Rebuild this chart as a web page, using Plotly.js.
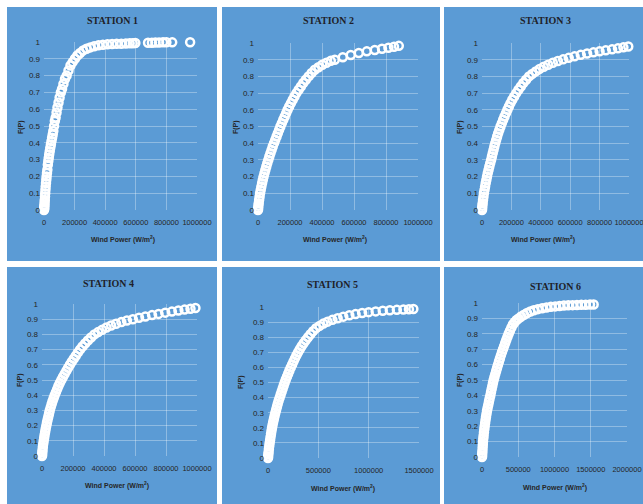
<!DOCTYPE html>
<html>
<head>
<meta charset="utf-8">
<script src="https://cdn.plot.ly/plotly-3.0.1.min.js"></script>
<style>html,body{margin:0;padding:0;background:#fff;}#chart{width:643px;height:504px;}</style>
</head>
<body>
<div id="chart"></div>
<script>
// ---- Data ----
const stationNames = ["STATION 1","STATION 2","STATION 3","STATION 4","STATION 5","STATION 6"];
const xTitle = "Wind Power (W/m<sup>2</sup>)";
const yTitle = "F(P)";

const s1x = [0,500,1000,2000,3000,4000,5000,6500,8000,9500,11000,13000,15000,17000,19500,22000,25000,28000,31000,34000,37500,41000,45000,49000,53000,57000,61000,66000,71000,76000,82000,88000,95000,102000,110000,118000,127000,137000,148000,160000,173000,187000,202000,218000,236000,256000,278000,302000,328000,356000,385000,415000,445000,475000,505000,535000,560000,580000,597000,680000,705000,728000,752000,778000,800000,838000,955000];
const s1y = [0,0.005,0.01,0.02,0.03,0.045,0.06,0.08,0.1,0.12,0.14,0.16,0.18,0.2,0.22,0.24,0.27,0.29,0.31,0.33,0.35,0.37,0.39,0.41,0.43,0.45,0.47,0.5,0.53,0.55,0.58,0.61,0.64,0.67,0.7,0.72,0.75,0.78,0.8,0.83,0.86,0.88,0.9,0.92,0.935,0.95,0.96,0.968,0.975,0.98,0.984,0.986,0.988,0.989,0.99,0.991,0.992,0.993,0.994,0.996,0.996,0.997,0.997,0.998,0.998,0.998,0.999];

const s2x = [0,1000,2500,4500,7000,10000,13000,17000,21000,25500,30000,35000,40500,46000,52000,58000,64500,71000,78000,85000,92000,100000,108000,116000,124000,132000,140000,149000,158000,167000,176000,185000,195000,206000,217000,228000,240000,254000,268000,283000,299000,316000,335000,355000,378000,402000,428000,455000,480000,530000,580000,630000,680000,730000,775000,815000,850000,880000];
const s2y = [0,0.01,0.025,0.04,0.06,0.08,0.1,0.12,0.14,0.16,0.18,0.2,0.22,0.24,0.26,0.28,0.3,0.32,0.34,0.36,0.38,0.4,0.42,0.44,0.46,0.48,0.5,0.52,0.54,0.56,0.58,0.6,0.62,0.64,0.66,0.68,0.7,0.72,0.74,0.76,0.78,0.8,0.82,0.84,0.855,0.87,0.882,0.893,0.9,0.915,0.928,0.94,0.95,0.958,0.966,0.972,0.978,0.983];

const s3x = [0,1000,2500,4500,7000,10000,13000,17000,21000,25000,29500,34000,39000,44500,50000,56000,62000,67500,73000,78500,84000,90000,96500,103000,110000,118000,126000,135000,144000,153000,163000,173000,183000,194000,206000,219000,233000,248000,264000,281000,300000,320000,342000,366000,392000,420000,450000,482000,516000,552000,590000,630000,672000,715000,758000,800000,842000,885000,925000,962000,995000];
const s3y = [0,0.01,0.025,0.04,0.06,0.08,0.1,0.12,0.14,0.16,0.18,0.2,0.22,0.24,0.26,0.28,0.3,0.32,0.34,0.36,0.38,0.4,0.42,0.44,0.46,0.48,0.5,0.52,0.54,0.56,0.58,0.6,0.62,0.64,0.66,0.68,0.7,0.72,0.74,0.76,0.78,0.8,0.815,0.83,0.845,0.858,0.87,0.882,0.892,0.902,0.911,0.92,0.929,0.937,0.944,0.95,0.956,0.962,0.968,0.974,0.979];

const s4x = [0,1000,2000,3500,5500,8000,11000,14000,17000,20500,24000,28000,32000,36500,41000,45500,50000,56000,62000,68000,75000,82000,90000,98000,106000,115000,125000,135000,146000,157000,168000,180000,192000,205000,218000,231000,245000,261000,278000,296000,316000,338000,362000,388000,416000,446000,478000,512000,548000,586000,626000,667000,710000,752000,795000,838000,880000,920000,958000,990000];
const s4y = [0,0.01,0.025,0.04,0.06,0.08,0.1,0.12,0.14,0.16,0.18,0.2,0.22,0.24,0.26,0.28,0.3,0.32,0.34,0.36,0.38,0.4,0.42,0.44,0.46,0.48,0.5,0.52,0.54,0.56,0.58,0.6,0.62,0.64,0.66,0.68,0.7,0.72,0.74,0.76,0.78,0.8,0.815,0.83,0.845,0.858,0.87,0.881,0.891,0.9,0.909,0.918,0.927,0.935,0.943,0.95,0.957,0.963,0.969,0.974];

const s5x = [0,1500,3500,6000,9000,12500,16500,21000,25500,30000,35000,40000,46000,52000,59000,66000,73000,81000,89000,97000,106000,116000,126000,136000,146000,156000,166000,177000,189000,201000,213000,226000,240000,254000,268000,283000,299000,316000,334000,354000,375000,398000,422000,448000,478000,512000,550000,592000,640000,692000,748000,808000,870000,935000,1000000,1070000,1140000,1210000,1280000,1345000,1400000,1444000];
const s5y = [0,0.01,0.025,0.04,0.06,0.08,0.1,0.12,0.14,0.16,0.18,0.2,0.22,0.24,0.26,0.28,0.3,0.32,0.34,0.36,0.38,0.4,0.42,0.44,0.46,0.48,0.5,0.52,0.54,0.56,0.58,0.6,0.62,0.64,0.66,0.68,0.7,0.72,0.74,0.76,0.78,0.8,0.82,0.84,0.86,0.875,0.89,0.903,0.915,0.926,0.936,0.945,0.953,0.96,0.966,0.971,0.975,0.978,0.981,0.983,0.985,0.987];

const s6x = [0,1500,3500,6000,8500,11000,14000,18000,22500,27000,32000,37000,43000,49000,55000,62000,69000,78000,87000,96000,105000,115000,124000,133000,142000,151000,161000,172000,184000,196000,208000,221000,234000,247000,261000,275000,290000,305000,320000,335000,351000,368000,386000,405000,426000,450000,477000,506000,540000,580000,622000,667000,715000,770000,830000,890000,950000,1010000,1070000,1130000,1190000,1250000,1310000,1370000,1430000,1490000,1540000];
const s6y = [0,0.01,0.025,0.04,0.06,0.08,0.1,0.12,0.14,0.16,0.18,0.2,0.22,0.24,0.26,0.28,0.3,0.32,0.34,0.36,0.38,0.4,0.42,0.44,0.46,0.48,0.5,0.52,0.54,0.56,0.58,0.6,0.62,0.64,0.66,0.68,0.7,0.72,0.74,0.76,0.78,0.8,0.82,0.84,0.86,0.875,0.89,0.9,0.912,0.924,0.935,0.945,0.953,0.96,0.966,0.971,0.975,0.978,0.981,0.983,0.985,0.986,0.987,0.988,0.989,0.99,0.99];

const xMax = [1000000,1000000,1000000,1000000,1500000,2000000];
const xStep = [200000,200000,200000,200000,500000,500000];

// ---- Layout geometry (pixels) ----
const W = 643, H = 504;
const panelBoxes = [[7,7,217,261],[222,7,440,261],[444,7,643,261],[7,267,217,504],[222,267,440,504],[444,267,643,504]];
const plotBoxes = [[44,42,197,210],[258,43,418,210],[482,43,629,210],[42,304,197,456],[268,307,419,458],[482,303,627,457]];
const titlePos = [[113,21],[328,21],[545,21],[108,283],[332,284],[555,286]];
const xTitlePos = [[123,239],[335,239],[543,239],[117,485],[343,488],[555,487]];
const yTitlePos = [[21,127],[236,127],[460,127],[20,380],[241,382],[460,380]];

const px = v => v / W;
const py = v => 1 - v / H;

const xs = [s1x,s2x,s3x,s4x,s5x,s6x];
const ys = [s1y,s2y,s3y,s4y,s5y,s6y];

const blue = '#5b9bd5';
const textCol = '#262626';
const xTickFont = {family:'Liberation Sans, Arial, sans-serif', size:7.5, color:textCol};
const yTickFont = {family:'Liberation Sans, Arial, sans-serif', size:8, color:textCol};

const data = [];
const layout = {
  width: W, height: H,
  margin: {l:0,r:0,t:0,b:0,pad:0},
  paper_bgcolor: '#ffffff',
  plot_bgcolor: 'rgba(0,0,0,0)',
  showlegend: false,
  shapes: [],
  annotations: []
};

for (let i = 0; i < 6; i++) {
  const n = i + 1;
  const xa = 'xaxis' + (n === 1 ? '' : n);
  const ya = 'yaxis' + (n === 1 ? '' : n);
  const xr = 'x' + (n === 1 ? '' : n);
  const yr = 'y' + (n === 1 ? '' : n);
  const pb = plotBoxes[i];
  data.push({
    type: 'scatter', mode: 'markers',
    x: xs[i], y: ys[i], xaxis: xr, yaxis: yr,
    cliponaxis: false,
    marker: {symbol: 'circle-open', size: 8, color: '#ffffff', line: {width: 2.5, color: '#ffffff'}},
    hoverinfo: 'skip'
  });
  layout[xa] = {
    domain: [px(pb[0]), px(pb[2])], anchor: yr,
    range: [0, xMax[i]], tick0: 0, dtick: xStep[i], tickformat: 'd', tickangle: 0,
    showgrid: true, gridcolor: 'rgba(255,255,255,0.32)', gridwidth: 1,
    zeroline: false, showline: false, ticks: '',
    tickfont: xTickFont, ticklabelstandoff: 6, ticklabeloverflow: 'allow', fixedrange: true
  };
  layout[ya] = {
    domain: [py(pb[3]), py(pb[1])], anchor: xr,
    range: [0, 1], tick0: 0, dtick: 0.1,
    showgrid: true, gridcolor: 'rgba(255,255,255,0.32)', gridwidth: 1,
    zeroline: false, showline: false, ticks: '',
    tickfont: yTickFont, ticklabelstandoff: 3, fixedrange: true
  };
  const bb = panelBoxes[i];
  layout.shapes.push({
    type: 'rect', xref: 'paper', yref: 'paper', layer: 'below',
    x0: px(bb[0]), x1: px(bb[2]), y0: py(bb[3]), y1: py(bb[1]),
    fillcolor: blue, line: {width: 0}
  });
  layout.annotations.push({
    text: stationNames[i], xref: 'paper', yref: 'paper',
    x: px(titlePos[i][0]), y: py(titlePos[i][1]), xanchor: 'center', yanchor: 'middle',
    showarrow: false, font: {family: 'Liberation Serif, Times New Roman, serif', size: 10, weight: 'bold', color: '#1f1f2a'}
  });
  layout.annotations.push({
    text: xTitle, xref: 'paper', yref: 'paper',
    x: px(xTitlePos[i][0]), y: py(xTitlePos[i][1]), xanchor: 'center', yanchor: 'middle',
    showarrow: false, font: {family: 'Liberation Sans, Arial, sans-serif', size: 7, weight: 'bold', color: textCol}
  });
  layout.annotations.push({
    text: yTitle, xref: 'paper', yref: 'paper', textangle: -90,
    x: px(yTitlePos[i][0]), y: py(yTitlePos[i][1]), xanchor: 'center', yanchor: 'middle',
    showarrow: false, font: {family: 'Liberation Sans, Arial, sans-serif', size: 7, weight: 'bold', color: textCol}
  });
}

Plotly.newPlot('chart', data, layout, {staticPlot: true, displayModeBar: false});
</script>
</body>
</html>
